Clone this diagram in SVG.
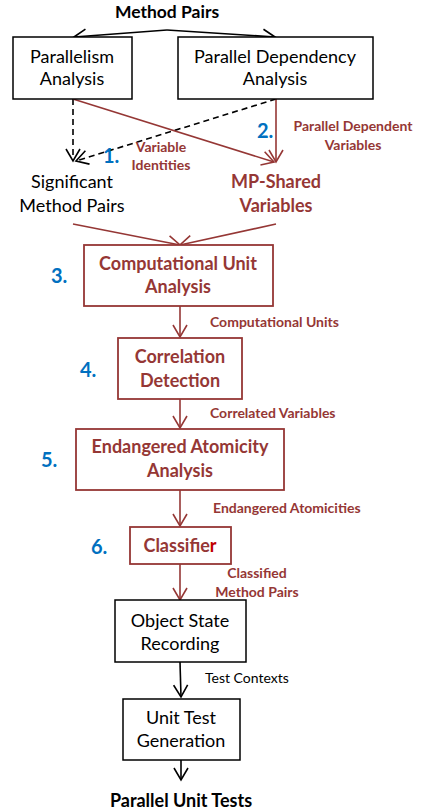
<svg xmlns="http://www.w3.org/2000/svg" width="421" height="811" viewBox="0 0 421 811">
  <style>
    text { font-family: Lato, "Open Sans", sans-serif; text-anchor: middle; }
    .box { fill: #fff; stroke: #000; stroke-width: 1.5; }
    .rbox { fill: #fff; stroke: #953735; stroke-width: 1.8; }
    .t { font-size: 18px; fill: #000; }
    .rt { font-size: 18px; font-weight: bold; fill: #953735; }
    .lbl { font-size: 14px; font-weight: bold; fill: #953735; text-anchor: start; }
    .num { font-size: 20px; font-weight: bold; fill: #0070c0; text-anchor: start; }
    .blk { stroke: #000; stroke-width: 1.6; fill: none; }
    .red { stroke: #953735; stroke-width: 1.6; fill: none; }
    .dash { stroke: #000; stroke-width: 1.6; fill: none; stroke-dasharray: 6 4; }
  </style>
  <defs>
    <marker id="ah-k" markerUnits="userSpaceOnUse" markerWidth="16" markerHeight="16" viewBox="-14 -8 16 16" refX="0" refY="0" orient="auto">
      <path d="M-12,-7 L0,0 L-12,7" fill="none" stroke="#000" stroke-width="1.6"/>
    </marker>
    <marker id="ah-r" markerUnits="userSpaceOnUse" markerWidth="16" markerHeight="16" viewBox="-14 -8 16 16" refX="0" refY="0" orient="auto">
      <path d="M-12,-7 L0,0 L-12,7" fill="none" stroke="#953735" stroke-width="1.6"/>
    </marker>
  </defs>

  <!-- connectors -->
  <g id="connectors">
    <path class="blk" d="M167,30 L74,37" marker-end="url(#ah-k)"/>
    <path class="blk" d="M167,30 L275,37" marker-end="url(#ah-k)"/>
    <path class="dash" d="M73,99 L73,161" marker-end="url(#ah-k)"/>
    <path class="dash" d="M276,99 L76,161" marker-end="url(#ah-k)"/>
    <path class="red" d="M73,99 L274,162" marker-end="url(#ah-r)"/>
    <path class="red" d="M276,99 L276,162" marker-end="url(#ah-r)"/>
    <path class="red" d="M73,224 L180,245" marker-end="url(#ah-r)"/>
    <path class="red" d="M276,224 L180,245" marker-end="url(#ah-r)"/>
    <path class="red" d="M180,306 L180,337" marker-end="url(#ah-r)"/>
    <path class="red" d="M180,399 L180,428" marker-end="url(#ah-r)"/>
    <path class="red" d="M180,490 L180,526" marker-end="url(#ah-r)"/>
    <path class="red" d="M180,564 L180,600" marker-end="url(#ah-r)"/>
    <path class="blk" d="M180,662 L181,697" marker-end="url(#ah-k)"/>
    <path class="blk" d="M181,760 L181,780" marker-end="url(#ah-k)"/>

    <text class="num" x="103" y="163">1.</text>
    <text class="lbl" x="161" y="152" style="text-anchor:middle">Variable</text>
    <text class="lbl" x="161" y="170" style="text-anchor:middle">Identities</text>
    <text class="num" x="257" y="138">2.</text>
    <text class="lbl" x="353" y="131" style="text-anchor:middle">Parallel Dependent</text>
    <text class="lbl" x="353" y="150" style="text-anchor:middle">Variables</text>
    <text class="lbl" x="210" y="327">Computational Units</text>
    <text class="lbl" x="210" y="418">Correlated Variables</text>
    <text class="lbl" x="213" y="513">Endangered Atomicities</text>
    <text class="lbl" x="257" y="578" style="text-anchor:middle">Classified</text>
    <text class="lbl" x="257" y="597" style="text-anchor:middle">Method Pairs</text>
    <text x="205" y="683" style="font-size:14px;fill:#000;text-anchor:start">Test Contexts</text>
  </g>

  <g id="method-pairs">
    <text x="167" y="18" style="font-size:17.5px;font-weight:bold;fill:#000">Method Pairs</text>
  </g>

  <g id="parallelism-analysis">
    <rect class="box" x="13" y="37" width="119" height="62"/>
    <text class="t" x="72" y="63">Parallelism</text>
    <text class="t" x="72" y="85">Analysis</text>
  </g>

  <g id="parallel-dependency-analysis">
    <rect class="box" x="178" y="37" width="195" height="62"/>
    <text class="t" x="275" y="63">Parallel Dependency</text>
    <text class="t" x="275" y="85">Analysis</text>
  </g>

  <g id="significant-method-pairs">
    <text class="t" x="72" y="188">Significant</text>
    <text class="t" x="72" y="212">Method Pairs</text>
  </g>

  <g id="mp-shared-variables">
    <text class="rt" x="276" y="188">MP-Shared</text>
    <text class="rt" x="276" y="212">Variables</text>
  </g>

  <g id="computational-unit-analysis">
    <rect class="rbox" x="84" y="245" width="189" height="61"/>
    <text class="rt" x="178" y="270">Computational Unit</text>
    <text class="rt" x="178" y="293">Analysis</text>
    <text class="num" x="51" y="283">3.</text>
  </g>

  <g id="correlation-detection">
    <rect class="rbox" x="118" y="338" width="124" height="61"/>
    <text class="rt" x="180" y="363">Correlation</text>
    <text class="rt" x="180" y="387">Detection</text>
    <text class="num" x="80" y="377">4.</text>
  </g>

  <g id="endangered-atomicity-analysis">
    <rect class="rbox" x="76" y="429" width="208" height="61"/>
    <text class="rt" x="180" y="453">Endangered Atomicity</text>
    <text class="rt" x="180" y="477">Analysis</text>
    <text class="num" x="41" y="467">5.</text>
  </g>

  <g id="classifier">
    <rect class="rbox" x="130" y="527" width="101" height="37"/>
    <text class="rt" x="180" y="552">Classifie<tspan fill="#c00000">r</tspan></text>
    <text class="num" x="91" y="554">6.</text>
  </g>

  <g id="object-state-recording">
    <rect class="box" x="115" y="600" width="131" height="62"/>
    <text class="t" x="180" y="627">Object State</text>
    <text class="t" x="180" y="650">Recording</text>
  </g>

  <g id="unit-test-generation">
    <rect class="box" x="123" y="699" width="117" height="61"/>
    <text class="t" x="181" y="724">Unit Test</text>
    <text class="t" x="181" y="747">Generation</text>
  </g>

  <g id="parallel-unit-tests">
    <text x="181" y="807" style="font-size:18px;font-weight:bold;fill:#000">Parallel Unit Tests</text>
  </g>
</svg>
